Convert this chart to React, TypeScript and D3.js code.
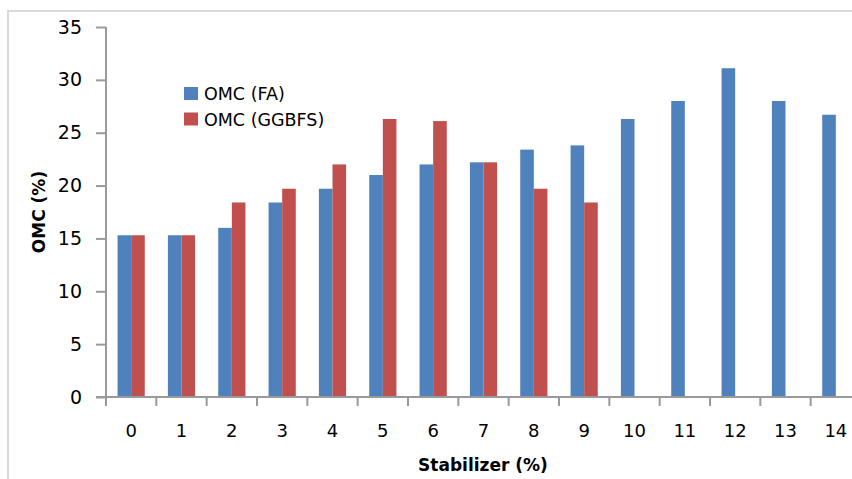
import React, { useEffect, useRef } from "react";
import * as d3 from "d3";

// Stabilizer content (%) on the category axis
const categories: string[] = ["0", "1", "2", "3", "4", "5", "6", "7", "8", "9", "10", "11", "12", "13", "14"];
// Optimum moisture content (%) for fly ash
const omcFA: (number | null)[] = [15.3, 15.3, 16.0, 18.4, 19.7, 21.0, 22.0, 22.2, 23.4, 23.8, 26.3, 28.0, 31.1, 28.0, 26.7];
// Optimum moisture content (%) for GGBFS (only tested up to 9%)
const omcGGBFS: (number | null)[] = [15.3, 15.3, 18.4, 19.7, 22.0, 26.3, 26.1, 22.2, 19.7, 18.4, null, null, null, null, null];
const seriesNames: string[] = ["OMC (FA)", "OMC (GGBFS)"];
const seriesColors: string[] = ["#4F81BD", "#C0504D"];
const yTicks: number[] = [0, 5, 10, 15, 20, 25, 30, 35];

const W = 852;
const H = 479;
const FONT = "'DejaVu Sans', Verdana, sans-serif";

export default function App() {
  const ref = useRef<SVGSVGElement | null>(null);

  useEffect(() => {
    const svg = d3.select(ref.current);
    svg.selectAll("*").remove();

    const left = 106;
    const right = 861;
    const top = 27;
    const bottom = 397;

    // chart area frame
    svg
      .append("rect")
      .attr("x", 8)
      .attr("y", 11)
      .attr("width", W + 20)
      .attr("height", H + 20)
      .attr("fill", "#fff")
      .attr("stroke", "#d9d9d9")
      .attr("stroke-width", 2);

    const x0 = d3.scaleBand<string>().domain(categories).range([left, right]).padding(0);
    const x1 = d3
      .scaleBand<string>()
      .domain(seriesNames)
      .range([0, x0.bandwidth()])
      .paddingInner(0)
      .paddingOuter(0.85);
    const y = d3.scaleLinear().domain([0, 35]).range([bottom, top]);

    const rows = categories.map((c, i) => ({ cat: c, values: [omcFA[i], omcGGBFS[i]] }));

    const groups = svg
      .append("g")
      .selectAll("g")
      .data(rows)
      .join("g")
      .attr("transform", (d) => `translate(${x0(d.cat)},0)`);

    groups
      .selectAll("rect")
      .data((d) =>
        d.values
          .map((v, k) => ({ key: seriesNames[k], v, color: seriesColors[k] }))
          .filter((e) => e.v !== null)
      )
      .join("rect")
      .attr("x", (d) => x1(d.key) as number)
      .attr("width", x1.bandwidth())
      .attr("y", (d) => y(d.v as number))
      .attr("height", (d) => bottom - y(d.v as number))
      .attr("fill", (d) => d.color);

    // y axis
    const yAxis = svg
      .append("g")
      .attr("transform", `translate(${left},0)`)
      .call(d3.axisLeft(y).tickValues(yTicks).tickSize(10).tickPadding(14));
    yAxis.select(".domain").attr("stroke", "#9a9a9a").attr("stroke-width", 2).attr("d", `M0,${top}V${bottom}`);
    yAxis.selectAll(".tick line").attr("stroke", "#9a9a9a").attr("stroke-width", 2);
    yAxis
      .selectAll(".tick text")
      .attr("font-family", FONT)
      .attr("font-size", 19)
      .attr("fill", "#000");

    // x axis with ticks on category boundaries
    const xAxis = svg.append("g").attr("transform", `translate(0,${bottom})`);
    xAxis
      .append("line")
      .attr("x1", left - 10)
      .attr("x2", right + 10)
      .attr("stroke", "#9a9a9a")
      .attr("stroke-width", 2);
    const bounds = categories.map((c) => x0(c) as number);
    xAxis
      .selectAll("line.tk")
      .data(bounds)
      .join("line")
      .attr("class", "tk")
      .attr("x1", (d) => d)
      .attr("x2", (d) => d)
      .attr("y1", 0)
      .attr("y2", 9)
      .attr("stroke", "#9a9a9a")
      .attr("stroke-width", 2);
    xAxis
      .selectAll("text")
      .data(categories)
      .join("text")
      .attr("x", (d) => (x0(d) as number) + x0.bandwidth() / 2)
      .attr("y", 40)
      .attr("text-anchor", "middle")
      .attr("font-family", FONT)
      .attr("font-size", 18)
      .attr("fill", "#000")
      .text((d) => d);

    // axis titles
    svg
      .append("text")
      .attr("x", 483)
      .attr("y", 471)
      .attr("text-anchor", "middle")
      .attr("font-family", FONT)
      .attr("font-weight", "bold")
      .attr("font-size", 17)
      .text("Stabilizer (%)");
    svg
      .append("text")
      .attr("transform", `translate(45,212) rotate(-90)`)
      .attr("text-anchor", "middle")
      .attr("font-family", FONT)
      .attr("font-weight", "bold")
      .attr("font-size", 17)
      .text("OMC (%)");

    // legend
    const legend = svg.append("g").attr("transform", "translate(184,87)");
    seriesNames.forEach((name, i) => {
      const g = legend.append("g").attr("transform", `translate(0,${i * 25.5})`);
      g.append("rect").attr("width", 14).attr("height", 13).attr("fill", seriesColors[i]);
      g.append("text")
        .attr("x", 20)
        .attr("y", 13)
        .attr("font-family", FONT)
        .attr("font-size", 17.5)
        .attr("fill", "#000")
        .text(name);
    });
  }, []);

  return (
    <svg
      ref={ref}
      width={W}
      height={H}
      style={{ position: "absolute", left: 0, top: 0, background: "#fff" }}
    />
  );
}
